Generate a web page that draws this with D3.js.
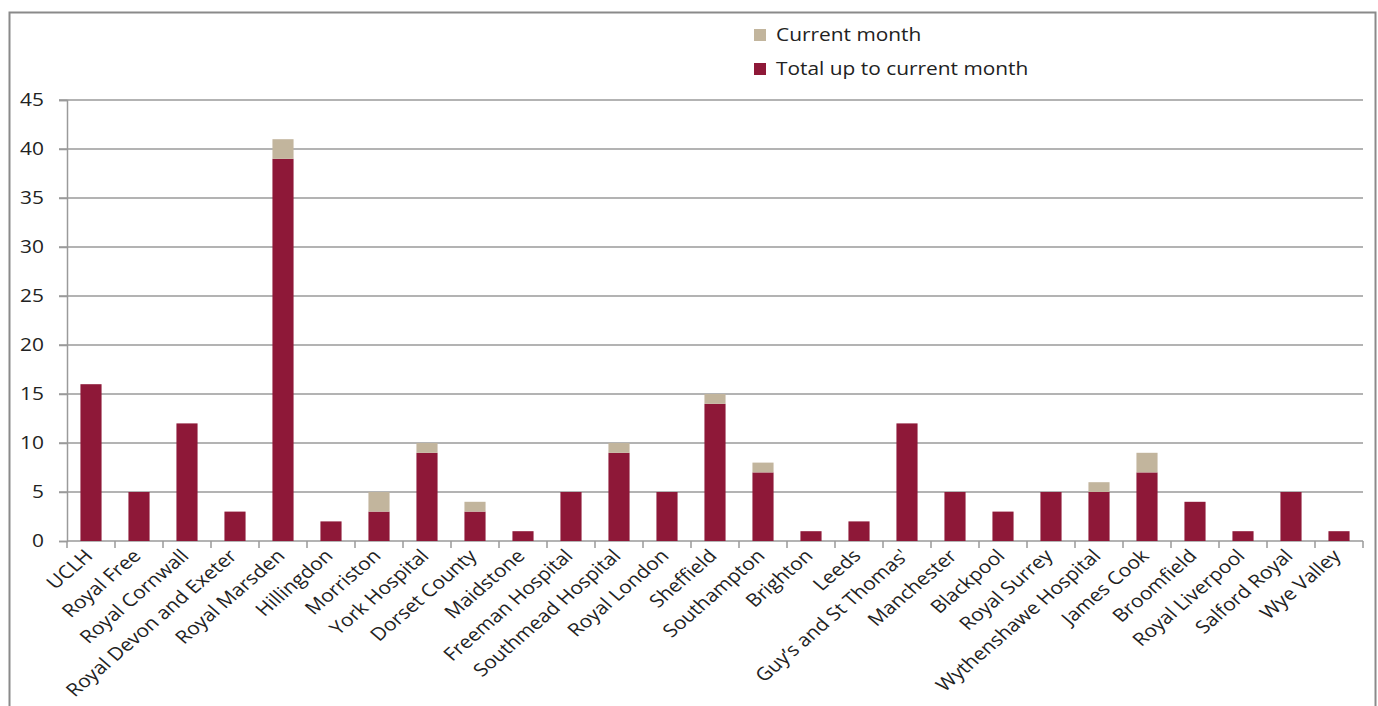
<!DOCTYPE html>
<html><head><meta charset="utf-8">
<script src="https://cdn.jsdelivr.net/npm/d3@7"></script>
<style>body{margin:0;background:#fff;}svg{display:block;font-family:"Open Sans",sans-serif;}</style>
</head><body>
<svg id="c" width="1378" height="706"></svg>
<script>
const categories = ["UCLH","Royal Free","Royal Cornwall","Royal Devon and Exeter","Royal Marsden","Hillingdon","Morriston","York Hospital","Dorset County","Maidstone","Freeman Hospital","Southmead Hospital","Royal London","Sheffield","Southampton","Brighton","Leeds","Guy\u2019s and St Thomas'","Manchester","Blackpool","Royal Surrey","Wythenshawe Hospital","James Cook","Broomfield","Royal Liverpool","Salford Royal","Wye Valley"];
const totalToDate = [16,5,12,3,39,2,3,9,3,1,5,9,5,14,7,1,2,12,5,3,5,5,7,4,1,5,1];
const currentMonth = [0,0,0,0,2,0,2,1,1,0,0,1,0,1,1,0,0,0,0,0,0,1,2,0,0,0,0];
const yTicks = [0,5,10,15,20,25,30,35,40,45];
const seriesNames = ["Current month","Total up to current month"];
const colors = {total:"#8E1838", current:"#C2B59D"};

(function(){
const FONT = "'Open Sans',sans-serif";
const SX = 1.16; // horizontal stretch of the reference rendering
const svg = d3.select("#c");
svg.append("rect").attr("x",9.5).attr("y",12.5).attr("width",1366).attr("height",720)
  .attr("fill","none").attr("stroke","#8a8a8a").attr("stroke-width",2);

const pL=67, pR=1363, pT=100, pB=541;
const x = d3.scaleBand().domain(categories).range([pL,pR]).paddingInner(0.56).paddingOuter(0.28);
const y = d3.scaleLinear().domain([0,45]).range([pB,pT]);

svg.append("g").selectAll("line").data(yTicks.filter(d=>d>0)).join("line")
  .attr("x1",pL-8).attr("x2",pR).attr("y1",d=>y(d)).attr("y2",d=>y(d))
  .attr("stroke","#9a9a9a").attr("stroke-width",1.5);

const ya = svg.append("g").attr("transform",`translate(${pL},0)`)
  .call(d3.axisLeft(y).tickValues(yTicks).tickSize(8).tickPadding(15));
ya.select(".domain").attr("stroke","#9a9a9a").attr("stroke-width",1.5);
ya.selectAll(".tick line").attr("stroke","#9a9a9a").attr("stroke-width",1.5);
ya.selectAll("text").attr("x",0).attr("transform",`translate(-23,0) scale(${SX},1)`)
  .attr("font-size",18).attr("fill","#222").style("font-family",FONT);

const step = x.step();
const bounds = d3.range(categories.length+1).map(i=>pL+i*step);
svg.append("line").attr("x1",pL).attr("x2",pR).attr("y1",pB).attr("y2",pB)
  .attr("stroke","#9a9a9a").attr("stroke-width",1.5);
svg.append("g").selectAll("line").data(bounds).join("line")
  .attr("x1",d=>d).attr("x2",d=>d).attr("y1",pB).attr("y2",pB+7)
  .attr("stroke","#9a9a9a").attr("stroke-width",1.5);

const data = categories.map((c,i)=>({c, total:totalToDate[i], cur:currentMonth[i]}));
svg.append("g").selectAll("rect").data(data).join("rect")
  .attr("x",d=>x(d.c)).attr("width",x.bandwidth())
  .attr("y",d=>y(d.total)).attr("height",d=>y(0)-y(d.total)).attr("fill",colors.total);
svg.append("g").selectAll("rect").data(data.filter(d=>d.cur>0)).join("rect")
  .attr("x",d=>x(d.c)).attr("width",x.bandwidth())
  .attr("y",d=>y(d.total+d.cur)).attr("height",d=>y(d.total)-y(d.total+d.cur)).attr("fill",colors.current);

svg.append("g").selectAll("text").data(categories).join("text")
  .attr("transform",d=>`translate(${x(d)+x.bandwidth()/2+3},${pB+16}) scale(${SX},1) rotate(-45)`)
  .attr("text-anchor","end").attr("font-size",18).attr("fill","#222").style("font-family",FONT).text(d=>d);

const lg = svg.append("g");
const legendItems = [{n:seriesNames[0],c:colors.current},{n:seriesNames[1],c:colors.total}];
legendItems.forEach((it,i)=>{
  lg.append("rect").attr("x",754).attr("y",29+i*34).attr("width",12).attr("height",12).attr("fill",it.c);
  lg.append("text").attr("transform",`translate(776,${41+i*34}) scale(${SX},1)`)
    .attr("font-size",18).attr("fill","#222").style("font-family",FONT).text(it.n);
});
})();
</script>
</body></html>
